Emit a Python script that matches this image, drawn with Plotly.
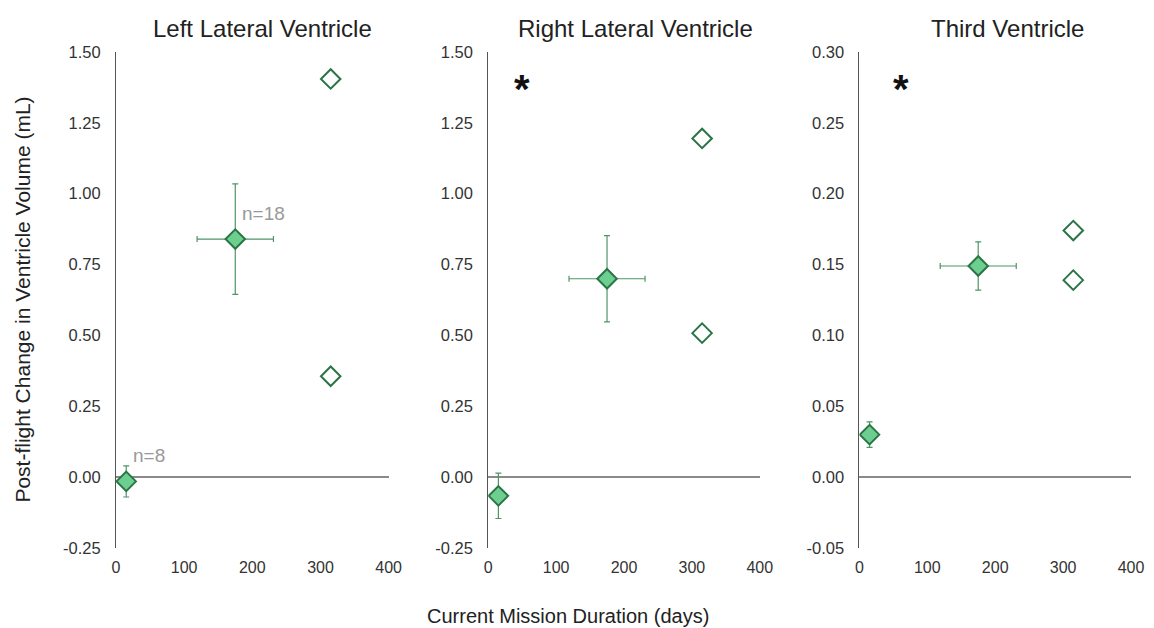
import plotly.graph_objects as go

# ---- data ----
panels = ["Left Lateral Ventricle", "Right Lateral Ventricle", "Third Ventricle"]

mean_x = [15, 175]
mean_x_err = [0, 56]

left_mean_y = [-0.015, 0.84]
left_mean_err = [0.055, 0.195]
left_ind_x = [315, 315]
left_ind_y = [1.405, 0.356]

right_mean_y = [-0.066, 0.70]
right_mean_err = [0.08, 0.152]
right_ind_x = [315, 315]
right_ind_y = [1.195, 0.508]

third_mean_y = [0.030, 0.149]
third_mean_err = [0.009, 0.017]
third_ind_x = [315, 315]
third_ind_y = [0.174, 0.139]

y_tickvals = [
    [-0.25, 0.0, 0.25, 0.5, 0.75, 1.0, 1.25, 1.5],
    [-0.25, 0.0, 0.25, 0.5, 0.75, 1.0, 1.25, 1.5],
    [-0.05, 0.0, 0.05, 0.10, 0.15, 0.20, 0.25, 0.30],
]
x_ticks = [0, 100, 200, 300, 400]

FONT = "Liberation Sans, Arial, sans-serif"
FILL = "#6dcf8f"
EDGE = "#2a7446"
ERR = "#4f9467"

fig = go.Figure()

series = [
    (left_mean_y, left_mean_err, left_ind_x, left_ind_y),
    (right_mean_y, right_mean_err, right_ind_x, right_ind_y),
    (third_mean_y, third_mean_err, third_ind_x, third_ind_y),
]

domains = [[0.0, 0.2686], [0.3667, 0.6343], [0.7324, 1.0]]

for i, (my, me, ix, iy) in enumerate(series):
    xa = "x" if i == 0 else f"x{i+1}"
    ya = "y" if i == 0 else f"y{i+1}"
    fig.add_trace(go.Scatter(
        x=mean_x, y=my, mode="markers", xaxis=xa, yaxis=ya,
        marker=dict(symbol="diamond", size=15, color=FILL,
                    line=dict(color=EDGE, width=2)),
        error_y=dict(type="data", array=me, color=ERR, thickness=1.2, width=3),
        error_x=dict(type="data", array=mean_x_err, color=ERR, thickness=1.2, width=3),
        showlegend=False, hoverinfo="x+y"))
    fig.add_trace(go.Scatter(
        x=ix, y=iy, mode="markers", xaxis=xa, yaxis=ya,
        marker=dict(symbol="diamond", size=15, color="white",
                    line=dict(color=EDGE, width=2)),
        showlegend=False, hoverinfo="x+y"))

layout = dict(
    width=1154, height=628,
    margin=dict(l=116, r=10, t=52, b=80),
    paper_bgcolor="white", plot_bgcolor="white",
    font=dict(family=FONT, size=16, color="#333"),
)
for i in range(3):
    sx = "" if i == 0 else str(i + 1)
    tv = y_tickvals[i]
    layout[f"xaxis{sx}"] = dict(
        domain=domains[i], range=[0, 400], tickvals=x_ticks,
        showgrid=False, zeroline=False, showline=False,
        anchor=f"y{sx}", fixedrange=True, ticklabelstandoff=8,
        tickfont=dict(size=16, color="#333"))
    layout[f"yaxis{sx}"] = dict(
        range=[tv[0], tv[-1]], tickvals=tv,
        ticktext=[f"{v:.2f}" for v in tv],
        showgrid=False, showline=True, linecolor="#555", linewidth=1,
        zeroline=True, zerolinecolor="#8a8a8a", zerolinewidth=1.5,
        anchor=f"x{sx}", fixedrange=True, ticklabelstandoff=11,
        tickfont=dict(size=16.5, color="#333"))
fig.update_layout(**layout)

title_x = [0.144, 0.512, 0.878]
for i, t in enumerate(panels):
    fig.add_annotation(text=t, xref="paper", yref="paper", x=title_x[i], y=1.048,
                       showarrow=False, xanchor="center", yanchor="middle",
                       font=dict(size=24, color="#222", family=FONT))

# asterisks
fig.add_annotation(text="<b>*</b>", xref="x2", yref="y2", x=50, y=1.37,
                   showarrow=False, font=dict(size=40, color="#111", family=FONT))
fig.add_annotation(text="<b>*</b>", xref="x3", yref="y3", x=62, y=0.274,
                   showarrow=False, font=dict(size=40, color="#111", family=FONT))

# n labels
fig.add_annotation(text="n=18", xref="x", yref="y", x=217, y=0.93,
                   showarrow=False, font=dict(size=19, color="#999", family=FONT))
fig.add_annotation(text="n=8", xref="x", yref="y", x=48, y=0.078,
                   showarrow=False, font=dict(size=19, color="#999", family=FONT))

# axis titles
fig.add_annotation(text="Post-flight Change in Ventricle Volume (mL)", xref="paper", yref="paper",
                   x=-0.093, y=0.5, textangle=-90, showarrow=False,
                   xanchor="center", yanchor="middle",
                   font=dict(size=21, color="#222", family=FONT))
fig.add_annotation(text="Current Mission Duration (days)", xref="paper", yref="paper",
                   x=0.445, y=-0.137, showarrow=False, xanchor="center", yanchor="middle",
                   font=dict(size=20, color="#222", family=FONT))

fig.write_html("out.html", config={"displayModeBar": False},
               post_script="document.body.style.margin='0';document.body.style.overflow='hidden';")
